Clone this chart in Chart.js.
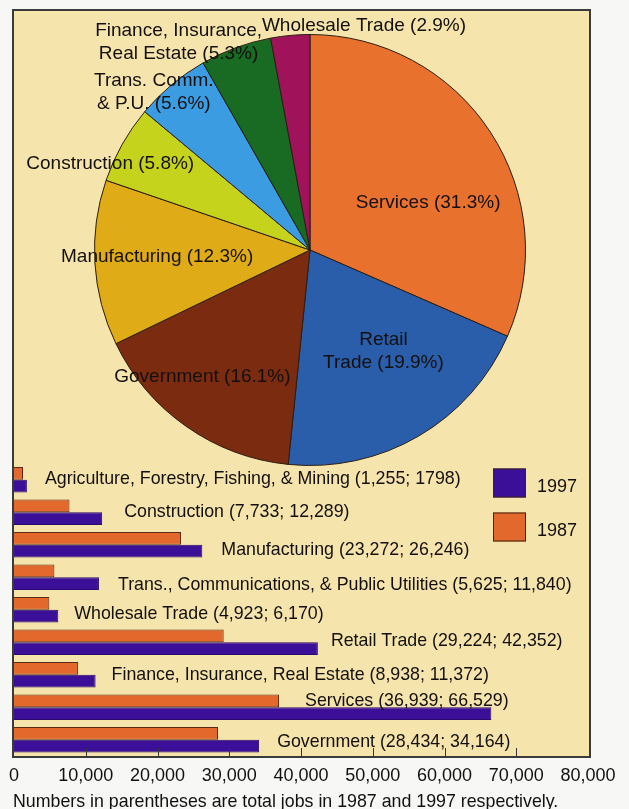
<!DOCTYPE html>
<html>
<head>
<meta charset="utf-8">
<script src="https://cdn.jsdelivr.net/npm/chart.js@4"></script>
<style>
  html, body { margin: 0; padding: 0; background: #f7f7f5; }
  body { width: 629px; height: 809px; position: relative; overflow: hidden; font-family: "Liberation Sans", Arial, sans-serif; }
  #panel { position: absolute; left: 12px; top: 9px; width: 575px; height: 745px; background: #f5e4ab; border: 2px solid #3a3a3a; }
  #pieWrap { position: absolute; left: 0; top: 0; width: 629px; height: 480px; }
  #barWrap { position: absolute; left: 0; top: 440px; width: 629px; height: 370px; }
  #note { position: absolute; left: 13px; top: 791px; font-size: 17.8px; color: #111; white-space: nowrap; }
</style>
</head>
<body>
<div id="panel"></div>
<div id="pieWrap"><canvas id="pieChart"></canvas></div>
<div id="barWrap"><canvas id="barChart"></canvas></div>
<div id="note">Numbers in parentheses are total jobs in 1987 and 1997 respectively.</div>
<script>
// pie: share of jobs by sector, 1997
const pieNames = [['Services'], ['Retail', 'Trade'], ['Government'], ['Manufacturing'], ['Construction'], ['Trans. Comm.', '& P.U.'], ['Finance, Insurance,', 'Real Estate'], ['Wholesale Trade']];
const pieShares = [31.3, 19.9, 16.1, 12.3, 5.8, 5.6, 5.3, 2.9];
const pieColors = ['#e8712e', '#2a5daa', '#7a2b10', '#dfab17', '#c6d31c', '#3c9ce2', '#196a22', '#a0135b'];

// bars: total jobs 1987 and 1997
const industries = ['Agriculture, Forestry, Fishing, & Mining', 'Construction', 'Manufacturing', 'Trans., Communications, & Public Utilities', 'Wholesale Trade', 'Retail Trade', 'Finance, Insurance, Real Estate', 'Services', 'Government'];
const jobs1987 = [1255, 7733, 23272, 5625, 4923, 29224, 8938, 36939, 28434];
const jobs1997 = [1798, 12289, 26246, 11840, 6170, 42352, 11372, 66529, 34164];
const barLabels = [
  'Agriculture, Forestry, Fishing, & Mining (1,255; 1798)',
  'Construction (7,733; 12,289)',
  'Manufacturing (23,272; 26,246)',
  'Trans., Communications, & Public Utilities (5,625; 11,840)',
  'Wholesale Trade (4,923; 6,170)',
  'Retail Trade (29,224; 42,352)',
  'Finance, Insurance, Real Estate (8,938; 11,372)',
  'Services (36,939; 66,529)',
  'Government (28,434; 34,164)'
];
const xTicks = [0, 10000, 20000, 30000, 40000, 50000, 60000, 70000, 80000];

const FONT = '"Liberation Sans", Arial, sans-serif';

// where each pie label sits: fraction of radius, angle shift from slice middle (deg)
const piePlace = [[0.59, 11.5], [0.58, -5.7], [0.77, 5.4], [0.71, 0.9], [1.01, -6], [1.03, -4.8], [1.14, -12.2], [1.07, 18.8]];

const pieLabelPlugin = {
  id: 'pieLabels',
  afterDatasetsDraw(chart) {
    const ctx = chart.ctx;
    const arcs = chart.getDatasetMeta(0).data;
    ctx.save();
    ctx.font = '19px ' + FONT;
    ctx.fillStyle = '#141010';
    ctx.textAlign = 'center';
    ctx.textBaseline = 'middle';
    arcs.forEach((arc, i) => {
      const p = arc.getProps(['x', 'y', 'startAngle', 'endAngle', 'outerRadius'], true);
      const [f, da] = piePlace[i];
      const mid = (p.startAngle + p.endAngle) / 2 + da * Math.PI / 180;
      const cx = p.x + f * p.outerRadius * Math.cos(mid);
      const cy = p.y + f * p.outerRadius * Math.sin(mid);
      const lines = pieNames[i].slice();
      lines[lines.length - 1] += ' (' + pieShares[i] + '%)';
      const lh = 23;
      lines.forEach((t, k) => {
        ctx.fillText(t, cx, cy + (k - (lines.length - 1) / 2) * lh);
      });
    });
    ctx.restore();
  }
};

new Chart(document.getElementById('pieChart'), {
  type: 'pie',
  data: {
    labels: pieNames.map(n => n.join(' ')),
    datasets: [{
      data: pieShares,
      backgroundColor: pieColors,
      borderColor: '#2b1d14',
      borderWidth: 1
    }]
  },
  options: {
    responsive: true, maintainAspectRatio: false, animation: false,
    layout: { padding: { left: 94, right: 103, top: 34, bottom: 14 } },
    plugins: { legend: { display: false }, tooltip: { enabled: false } }
  },
  plugins: [pieLabelPlugin]
});

// label anchor: which bar end the text follows, gap and vertical shift
const labelAnchor = [[1, 18, -1], [1, 22, 0], [1, 19, 5], [1, 19, 8], [1, 16, 4], [1, 13, -1], [1, 16, 0], [0, 26, -6], [1, 18, 2]];

const barExtras = {
  id: 'barExtras',
  afterDatasetsDraw(chart) {
    const ctx = chart.ctx;
    const xs = chart.scales.x, ys = chart.scales.y, area = chart.chartArea;
    ctx.save();
    // little upward tick marks on the bottom edge
    ctx.strokeStyle = '#333';
    ctx.lineWidth = 1;
    xTicks.slice(1, -1).forEach(v => {
      const px = Math.round(xs.getPixelForValue(v)) + 0.5;
      ctx.beginPath();
      ctx.moveTo(px, area.bottom);
      ctx.lineTo(px, area.bottom - 8);
      ctx.stroke();
    });
    // category labels
    ctx.font = '17.8px ' + FONT;
    ctx.fillStyle = '#141010';
    ctx.textAlign = 'left';
    ctx.textBaseline = 'middle';
    industries.forEach((name, i) => {
      const [which, gap, dy] = labelAnchor[i];
      const v = which ? jobs1997[i] : jobs1987[i];
      ctx.fillText(barLabels[i], xs.getPixelForValue(v) + gap, ys.getPixelForValue(i) + dy);
    });
    // legend, 1997 first
    const sets = [chart.data.datasets[1], chart.data.datasets[0]];
    ctx.font = '18px ' + FONT;
    sets.forEach((ds, k) => {
      const sx = area.right - 95, sy = area.top + 5 + k * 44;
      ctx.fillStyle = ds.backgroundColor;
      ctx.fillRect(sx, sy, 33, 29);
      ctx.strokeStyle = '#3a2414';
      ctx.strokeRect(sx + 0.5, sy + 0.5, 32, 28);
      ctx.fillStyle = '#141010';
      ctx.fillText(ds.label, area.right - 51, sy + 19);
    });
    ctx.restore();
  }
};

new Chart(document.getElementById('barChart'), {
  type: 'bar',
  data: {
    labels: industries,
    datasets: [
      { label: '1987', data: jobs1987, backgroundColor: '#e2682b', borderColor: '#5a2a12', borderWidth: 1, borderSkipped: 'left', categoryPercentage: 0.78, barPercentage: 1.0 },
      { label: '1997', data: jobs1997, backgroundColor: '#3b0f98', borderColor: '#2a0a6a', borderWidth: 1, borderSkipped: 'left', categoryPercentage: 0.78, barPercentage: 1.0 }
    ]
  },
  options: {
    indexAxis: 'y',
    responsive: true, maintainAspectRatio: false, animation: false,
    layout: { padding: { left: 13, right: 41, top: 23.5, bottom: 0 } },
    scales: {
      x: {
        min: 0, max: 80000,
        afterBuildTicks(scale) { scale.ticks = xTicks.map(v => ({ value: v })); },
        afterFit(scale) { scale.height = 54; },
        grid: { display: false, drawTicks: false },
        border: { display: false },
        ticks: { padding: 9, color: '#111', font: { size: 18, family: FONT }, maxRotation: 0, autoSkip: false,
                 callback: v => v.toLocaleString('en-US') }
      },
      y: { display: false }
    },
    plugins: { legend: { display: false }, tooltip: { enabled: false } }
  },
  plugins: [barExtras]
});
</script>
</body>
</html>
